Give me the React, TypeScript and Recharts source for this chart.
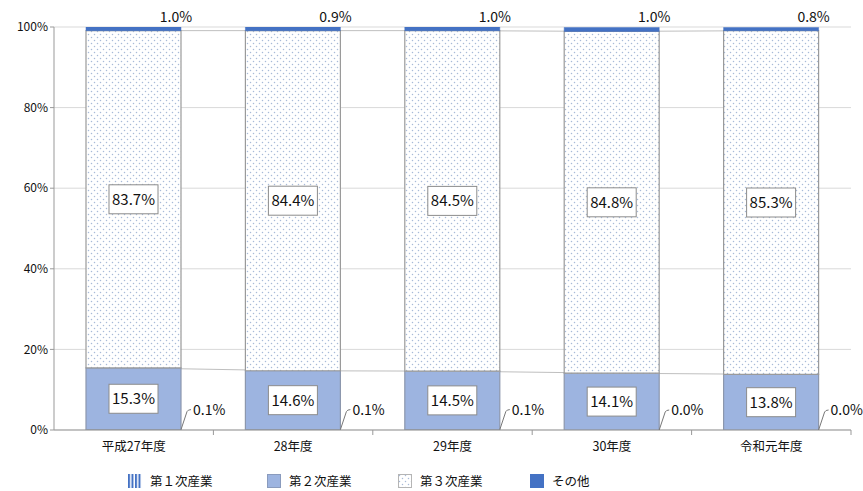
import React from 'react';
import { ComposedChart, Bar, Line, XAxis, YAxis, CartesianGrid, LabelList, Legend } from 'recharts';

const categories = ['平成27年度', '28年度', '29年度', '30年度', '令和元年度'];
const primary = [0.1, 0.1, 0.1, 0.0, 0.0];
const secondary = [15.3, 14.6, 14.5, 14.1, 13.8];
const tertiary = [83.7, 84.4, 84.5, 84.8, 85.3];
const other = [1.0, 0.9, 1.0, 1.0, 0.8];
const yTicks = [0, 20, 40, 60, 80, 100];
const seriesNames = ['第１次産業', '第２次産業', '第３次産業', 'その他'];

const data = categories.map((c, i) => ({
  name: c,
  v1: primary[i],
  v2: secondary[i],
  v3: tertiary[i],
  v4: other[i],
  cum2: primary[i] + secondary[i],
  cum3: primary[i] + secondary[i] + tertiary[i],
}));

const FONT = '"Noto Sans CJK JP", "Noto Sans", sans-serif';
const fmt = (v: number) => `${Number(v).toFixed(1)}%`;

const BoxLabel = (props: any) => {
  const { x, y, width, height, value } = props;
  const cx = x + width / 2;
  const cy = y + height / 2;
  const bw = 49;
  const bh = 29;
  return (
    <g>
      <rect x={cx - bw / 2} y={cy - bh / 2} width={bw} height={bh} fill="#fff" stroke="#8c8c8c" strokeWidth={1} />
      <text x={cx} y={cy + 5.5} textAnchor="middle" fontSize={15} fill="#111" style={{ fontFamily: FONT }}>
        {fmt(value)}
      </text>
    </g>
  );
};

const LeaderLabel = (props: any) => {
  const { x, y, width, height, value } = props;
  const rx = x + width;
  const by = y + height;
  return (
    <g>
      <path d={`M${rx},${by} L${rx + 6},${by - 18} Q${rx + 7},${by - 20} ${rx + 10},${by - 20}`} fill="none" stroke="#777" strokeWidth={1} />
      <text x={rx + 12} y={by - 15} textAnchor="start" fontSize={14} fill="#111" style={{ fontFamily: FONT }}>
        {fmt(value)}
      </text>
    </g>
  );
};

const TopLabel = (props: any) => {
  const { x, y, width, value } = props;
  return (
    <text x={x + width - 5} y={y - 5} textAnchor="middle" fontSize={14} fill="#111" style={{ fontFamily: FONT }}>
      {fmt(value)}
    </text>
  );
};

const XTick = (props: any) => {
  const { x, y, payload } = props;
  const off = payload && payload.offset ? payload.offset : 0;
  return (
    <g>
      {off > 0 && <line x1={x + off} y1={y - 8} x2={x + off} y2={y - 3} stroke="#999" strokeWidth={1} />}
      <text x={x} y={y + 13} textAnchor="middle" fontSize={12.5} fill="#111" style={{ fontFamily: FONT }}>
        {payload.value}
      </text>
    </g>
  );
};

const legendLefts = [128, 267, 398, 530];

const LegendContent = () => {
  const icons = [
    <svg width={14} height={14} key="i1">
      <rect x={0} y={0} width={14} height={14} fill="url(#stripes)" />
    </svg>,
    <svg width={14} height={14} key="i2">
      <rect x={0.5} y={0.5} width={13} height={13} fill="#9db4e0" stroke="#8a9bbd" />
    </svg>,
    <svg width={14} height={14} key="i3">
      <rect x={0.5} y={0.5} width={13} height={13} fill="url(#dots)" stroke="#b5b5b5" />
    </svg>,
    <svg width={14} height={14} key="i4">
      <rect x={0} y={0} width={14} height={14} fill="#4472c4" />
    </svg>,
  ];
  return (
    <div style={{ position: 'relative', height: 31, width: 863, fontFamily: FONT }}>
      {seriesNames.map((n, i) => (
        <div key={n} style={{ position: 'absolute', left: legendLefts[i], top: 14, height: 14, display: 'flex', alignItems: 'center' }}>
          {icons[i]}
          <span style={{ marginLeft: 8, fontSize: 12.5, color: '#111', lineHeight: '14px', whiteSpace: 'nowrap' }}>{n}</span>
        </div>
      ))}
    </div>
  );
};

export default function App() {
  return (
    <div style={{ position: 'absolute', left: 0, top: 0, width: 863, height: 491, background: '#fff', fontFamily: FONT }}>
      <ComposedChart width={863} height={491} data={data} margin={{ top: 27, right: 12, bottom: 0, left: 0 }}>
        <defs>
          <pattern id="dots" width="6" height="6" patternUnits="userSpaceOnUse">
            <rect width="6" height="6" fill="#ffffff" />
            <circle cx="1.5" cy="1.5" r="0.75" fill="#a8bad8" />
            <circle cx="4.5" cy="4.5" r="0.75" fill="#a8bad8" />
          </pattern>
          <pattern id="stripes" width="3.5" height="4" patternUnits="userSpaceOnUse">
            <rect width="3.5" height="4" fill="#ffffff" />
            <rect x="0" width="2" height="4" fill="#4472c4" />
          </pattern>
        </defs>
        <CartesianGrid vertical={false} stroke="#d9d9d9" />
        <XAxis
          dataKey="name"
          height={30}
          axisLine={{ stroke: '#999' }}
          tickLine={false}
          tick={<XTick />}
          interval={0}
        />
        <YAxis
          width={54}
          domain={[0, 100]}
          ticks={yTicks}
          allowDataOverflow
          tickFormatter={(v: number) => `${v}%`}
          axisLine={{ stroke: '#999' }}
          tickLine={{ stroke: '#999' }}
          tickSize={4}
          tick={{ fontSize: 12, fill: '#111', fontFamily: FONT }}
        />
        <Legend verticalAlign="bottom" align="left" wrapperStyle={{ left: 0, width: 863 }} content={<LegendContent />} />
        <Line dataKey="cum2" stroke="#bfbfbf" strokeWidth={1} dot={false} activeDot={false} isAnimationActive={false} legendType="none" zIndex={100} />
        <Line dataKey="cum3" stroke="#bfbfbf" strokeWidth={1} dot={false} activeDot={false} isAnimationActive={false} legendType="none" zIndex={100} />
        <Bar dataKey="v1" stackId="a" barSize={95} fill="url(#stripes)" stroke="#8c8c8c" strokeWidth={1} isAnimationActive={false} />
        <Bar dataKey="v2" stackId="a" barSize={95} fill="#9db4e0" stroke="#8c97ad" strokeWidth={1.2} isAnimationActive={false}>
          <LabelList dataKey="v2" content={<BoxLabel />} />
          <LabelList dataKey="v1" content={<LeaderLabel />} />
        </Bar>
        <Bar dataKey="v3" stackId="a" barSize={95} fill="url(#dots)" stroke="#9a9a9a" strokeWidth={1.2} isAnimationActive={false}>
          <LabelList dataKey="v3" content={<BoxLabel />} />
        </Bar>
        <Bar dataKey="v4" stackId="a" barSize={95} fill="#4472c4" stroke="#4472c4" strokeWidth={0.5} isAnimationActive={false}>
          <LabelList dataKey="v4" content={<TopLabel />} />
        </Bar>
      </ComposedChart>
    </div>
  );
}
